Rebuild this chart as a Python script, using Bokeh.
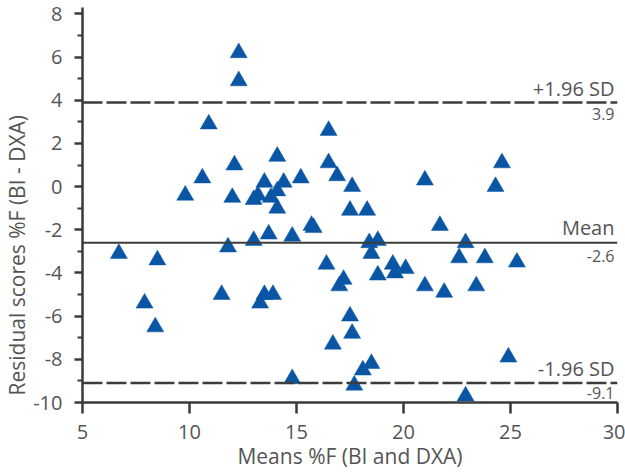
from bokeh.plotting import figure
from bokeh.models import FixedTicker, Range1d, Label, Span, Title
from bokeh.embed import file_html
from bokeh.resources import INLINE

# Means %F (BI and DXA)
means = [12.3, 12.3, 10.9, 16.5, 24.6, 14.1, 12.1, 16.5, 10.6, 15.2,
         16.9, 21.0, 24.3, 9.8, 12.0, 13.5, 14.4, 13.2, 13.0, 14.1,
         13.8, 14.1, 17.6, 17.5, 18.3, 15.7, 15.8, 21.7, 13.7, 14.8,
         13.0, 11.8, 18.4, 18.8, 22.9, 18.5, 22.6, 23.8, 25.3, 19.5,
         20.1, 19.6, 18.8, 17.2, 17.0, 21.0, 21.9, 23.4, 16.4, 17.5,
         17.6, 16.7, 18.5, 18.1, 17.7, 24.9, 22.9, 11.5, 13.5, 13.9,
         13.3, 14.8, 6.7, 8.5, 7.9, 8.4]
# Residual scores %F (BI - DXA)
residuals = [6.2, 4.9, 2.9, 2.6, 1.1, 1.4, 1.0, 1.1, 0.4, 0.4,
             0.5, 0.3, 0.0, -0.4, -0.5, 0.2, 0.2, -0.4, -0.6, -0.2,
             -0.5, -1.0, 0.0, -1.1, -1.1, -1.8, -1.9, -1.8, -2.2, -2.3,
             -2.5, -2.8, -2.6, -2.5, -2.6, -3.1, -3.3, -3.3, -3.5, -3.6,
             -3.8, -4.0, -4.1, -4.3, -4.6, -4.6, -4.9, -4.6, -3.6, -6.0,
             -6.8, -7.3, -8.2, -8.5, -9.2, -7.9, -9.7, -5.0, -5.0, -5.0,
             -5.4, -8.9, -3.1, -3.4, -5.4, -6.5]

mean_diff = -2.6
upper_loa = 3.9
lower_loa = -9.1

x_ticks = [5, 10, 15, 20, 25, 30]
y_ticks = [-10, -8, -6, -4, -2, 0, 2, 4, 6, 8]
y_minor = [-9, -7, -5, -3, -1, 1, 3, 5, 7]

FONT = "Open Sans"
AXIS_COL = "#3a3a3a"
TEXT_COL = "#555555"
MARK_COL = "#0a56a5"

p = figure(width=625, height=474, output_backend="svg", toolbar_location=None,
           x_range=Range1d(5, 30), y_range=Range1d(-10, 8.3),
           min_border_left=82, min_border_right=8, min_border_top=7,
           min_border_bottom=72)
p.outline_line_color = None
p.xgrid.visible = False
p.ygrid.visible = False
p.background_fill_color = "white"
p.border_fill_color = "white"

# limit lines
p.add_layout(Span(location=upper_loa, dimension="width", line_color="#3c3c3c",
                  line_width=2.6, line_dash="20 4"))
p.add_layout(Span(location=lower_loa, dimension="width", line_color="#3c3c3c",
                  line_width=2.6, line_dash="20 4"))
p.add_layout(Span(location=mean_diff, dimension="width", line_color="#3c3c3c",
                  line_width=2.2))

p.scatter(means, residuals, marker="triangle", size=17, fill_color=MARK_COL,
          line_color=MARK_COL, line_width=0.5)

# axes
p.xaxis.ticker = FixedTicker(ticks=x_ticks, minor_ticks=[])
p.yaxis.ticker = FixedTicker(ticks=y_ticks, minor_ticks=y_minor)
p.xaxis.major_label_overrides = {t: str(t) for t in x_ticks}
p.yaxis.major_label_overrides = {t: str(t) for t in y_ticks}
for ax in (p.xaxis[0], p.yaxis[0]):
    ax.axis_line_color = AXIS_COL
    ax.axis_line_width = 2.5
    ax.major_tick_line_color = AXIS_COL
    ax.major_tick_line_width = 2.5
    ax.minor_tick_line_color = AXIS_COL
    ax.minor_tick_line_width = 2
    ax.major_tick_in = 0
    ax.minor_tick_in = 0
    ax.major_label_text_font = FONT
    ax.major_label_text_font_size = "20px"
    ax.major_label_text_color = TEXT_COL
p.xaxis.major_label_standoff = 11
p.yaxis.major_label_standoff = 12
p.xaxis.major_tick_out = 11
p.xaxis.minor_tick_out = 0
p.yaxis.major_tick_out = 8
p.yaxis.minor_tick_out = 5

# x axis title
p.add_layout(Title(text="Means %F (BI and DXA)", align="center",
                   vertical_align="bottom", standoff=-3, text_line_height=0.8,
                   text_font=FONT, text_font_size="21px", text_font_style="normal",
                   text_color=TEXT_COL), "below")

# y axis title, starting near the bottom of the frame as in the original
p.add_layout(Title(text="Residual scores %F (BI - DXA)", align="left", offset=7,
                   text_font=FONT, text_font_size="21px", text_font_style="normal",
                   text_color=TEXT_COL, standoff=0), "left")

# line annotations
def annot(y, txt, above, size, off):
    p.add_layout(Label(x=30, y=y, text=txt, x_offset=-3, y_offset=off,
                       text_align="right",
                       text_baseline="bottom" if above else "top",
                       text_font=FONT, text_font_size=size, text_color=TEXT_COL))

annot(upper_loa, "+1.96 SD", True, "20px", 0)
annot(upper_loa, "3.9", False, "16px", -6)
annot(mean_diff, "Mean", True, "20px", 2)
annot(mean_diff, "-2.6", False, "16px", -7)
annot(lower_loa, "-1.96 SD", True, "20px", 1)
annot(lower_loa, "-9.1", False, "16px", -4)

open("out.html", "w").write(file_html(p, INLINE))
